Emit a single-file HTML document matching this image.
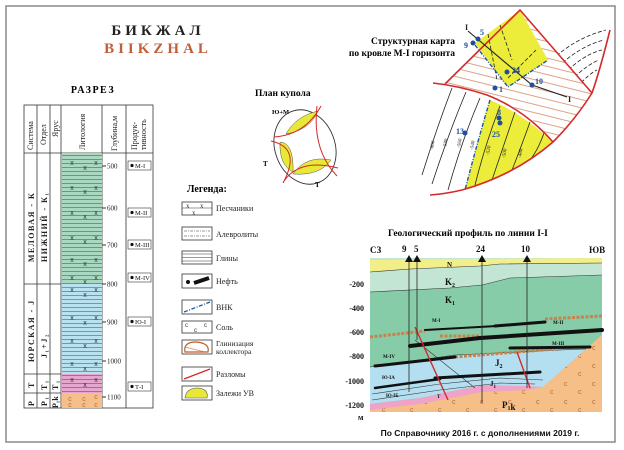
<!DOCTYPE html>
<html><head><meta charset="utf-8"><style>
html,body{margin:0;padding:0;background:#fff}
svg{display:block}
.s{font-family:"Liberation Serif","Noto Serif CJK SC",serif}
.a{font-family:"Liberation Sans","Noto Sans CJK SC",sans-serif}
</style></head><body>
<svg width="624" height="450" viewBox="0 0 624 450" xmlns="http://www.w3.org/2000/svg">
<defs>
<pattern id="hl" width="40" height="4" patternUnits="userSpaceOnUse"><line x1="0" y1="3.5" x2="40" y2="3.5" stroke="#3a4a44" stroke-width="0.6"/></pattern>
<pattern id="hatch" width="8" height="8" patternUnits="userSpaceOnUse" patternTransform="rotate(14)"><line x1="0" y1="4" x2="8" y2="4" stroke="#d07a50" stroke-width="0.7"/></pattern>
<pattern id="salt" width="28" height="18" patternUnits="userSpaceOnUse"><text x="4" y="8" font-size="7" fill="#b06a40" class="a">c</text><text x="18" y="16" font-size="7" fill="#b06a40" class="a">c</text></pattern>
</defs>
<rect x="6" y="6" width="609" height="436" fill="#fff" stroke="#8a8a8a" stroke-width="1.5"/>

<text x="158" y="35" text-anchor="middle" class="s" font-size="15" font-weight="bold" letter-spacing="4" fill="#222">БИКЖАЛ</text>
<text x="158" y="53" text-anchor="middle" class="s" font-size="15" font-weight="bold" letter-spacing="4" fill="#c0603a">BIIKZHAL</text>
<text x="93" y="93" text-anchor="middle" class="s" font-size="10" font-weight="bold" letter-spacing="1.5">РАЗРЕЗ</text>

<g stroke="#333" stroke-width="0.8" fill="none">
<rect x="24" y="105" width="129" height="303"/>
<line x1="24" y1="153" x2="153" y2="153"/>
<line x1="37" y1="105" x2="37" y2="408"/>
<line x1="50" y1="105" x2="50" y2="408"/>
<line x1="61" y1="105" x2="61" y2="408"/>
<line x1="102" y1="105" x2="102" y2="408"/>
<line x1="126" y1="105" x2="126" y2="408"/>
<line x1="24" y1="284" x2="61" y2="284"/>
<line x1="24" y1="374" x2="61" y2="374"/>
<line x1="24" y1="393" x2="61" y2="393"/>
</g>
<rect x="62" y="153" width="40" height="131" fill="#a8d9c0"/>
<rect x="62" y="284" width="40" height="90" fill="#b8e2f0"/>
<rect x="62" y="374" width="40" height="19" fill="#e6a6cf"/>
<rect x="62" y="393" width="40" height="15" fill="#f6bf8a"/>
<rect x="62" y="153" width="40" height="240" fill="url(#hl)"/>
<g class="a" font-size="7" fill="#333" text-anchor="middle">
<text x="72" y="165">x</text><text x="85" y="170">x</text><text x="96" y="165">x</text>
<text x="72" y="190">x</text><text x="85" y="194">x</text><text x="96" y="190">x</text>
<text x="72" y="215">x</text><text x="85" y="219">x</text><text x="96" y="215">x</text>
<text x="72" y="240">x</text><text x="85" y="244">x</text><text x="96" y="240">x</text>
<text x="72" y="262">x</text><text x="85" y="266">x</text><text x="96" y="262">x</text>
<text x="72" y="280">x</text><text x="85" y="284">x</text><text x="96" y="280">x</text>
<text x="72" y="292">x</text><text x="85" y="297">x</text><text x="96" y="292">x</text>
<text x="72" y="320">x</text><text x="85" y="325">x</text><text x="96" y="320">x</text>
<text x="72" y="343">x</text><text x="85" y="348">x</text><text x="96" y="343">x</text>
<text x="72" y="366">x</text><text x="85" y="371">x</text><text x="96" y="366">x</text>
<text x="72" y="382">x</text><text x="85" y="387">x</text><text x="96" y="382">x</text>
<text x="70" y="401" fill="#b06a40">c</text><text x="84" y="401" fill="#b06a40">c</text><text x="96" y="399" fill="#b06a40">c</text>
<text x="70" y="407" fill="#b06a40">c</text><text x="84" y="407" fill="#b06a40">c</text><text x="96" y="407" fill="#b06a40">c</text>
</g>
<g class="s" font-size="8" fill="#222">
<text transform="translate(33,150) rotate(-90)">Система</text>
<text transform="translate(46,145) rotate(-90)">Отдел</text>
<text transform="translate(58,137) rotate(-90)">Ярус</text>
<text transform="translate(85,150) rotate(-90)">Литология</text>
<text transform="translate(117,151) rotate(-90)">Глубина,м</text>
<text transform="translate(137,150) rotate(-90)">Продук-</text>
<text transform="translate(146,150) rotate(-90)">тивность</text>
</g>
<g class="s" font-size="8" font-weight="bold" fill="#222" letter-spacing="1.5">
<text transform="translate(34,262) rotate(-90)">МЕЛОВАЯ - К</text>
<text transform="translate(47,262) rotate(-90)">НИЖНИЙ - К₁</text>
<text transform="translate(34,362) rotate(-90)">ЮРСКАЯ - J</text>
<text transform="translate(47,358) rotate(-90)">J₁+J₂</text>
<text transform="translate(34,388) rotate(-90)">T</text>
<text transform="translate(47,390) rotate(-90)">T₁</text>
<text transform="translate(58,390) rotate(-90)">T₁</text>
<text transform="translate(34,406) rotate(-90)">P</text>
<text transform="translate(47,406) rotate(-90)">P₁</text>
<text transform="translate(58,408) rotate(-90)" letter-spacing="0">P₁k</text>
</g>
<g class="s" font-size="7" fill="#222">
<line x1="102" y1="166" x2="106" y2="166" stroke="#333"/><text x="107" y="168.5">500</text>
<line x1="102" y1="208" x2="106" y2="208" stroke="#333"/><text x="107" y="210.5">600</text>
<line x1="102" y1="245" x2="106" y2="245" stroke="#333"/><text x="107" y="247.5">700</text>
<line x1="102" y1="284" x2="106" y2="284" stroke="#333"/><text x="107" y="286.5">800</text>
<line x1="102" y1="322" x2="106" y2="322" stroke="#333"/><text x="107" y="324.5">900</text>
<line x1="102" y1="361" x2="106" y2="361" stroke="#333"/><text x="107" y="363.5">1000</text>
<line x1="102" y1="397" x2="106" y2="397" stroke="#333"/><text x="107" y="399.5">1100</text>
</g>
<g class="s" font-size="6.5" fill="#111" stroke-width="0.6">
<rect x="128" y="161" width="23" height="9" fill="none" stroke="#333"/><circle cx="132" cy="165.5" r="1.6"/><text x="135" y="168">М-I</text>
<rect x="128" y="208" width="23" height="9" fill="none" stroke="#333"/><circle cx="132" cy="212.5" r="1.6"/><text x="135" y="215">М-II</text>
<rect x="128" y="240" width="23" height="9" fill="none" stroke="#333"/><circle cx="132" cy="244.5" r="1.6"/><text x="135" y="247">М-III</text>
<rect x="128" y="273" width="23" height="9" fill="none" stroke="#333"/><circle cx="132" cy="277.5" r="1.6"/><text x="135" y="280">М-IV</text>
<rect x="128" y="317" width="23" height="9" fill="none" stroke="#333"/><circle cx="132" cy="321.5" r="1.6"/><text x="135" y="324">Ю-I</text>
<rect x="128" y="382" width="23" height="9" fill="none" stroke="#333"/><circle cx="132" cy="386.5" r="1.6"/><text x="135" y="389">Т-I</text>
</g>

<!-- Plan kupola -->
<text x="255" y="96" class="s" font-size="9.5" font-weight="bold">План купола</text>
<text x="272" y="114" class="s" font-size="6.5" font-weight="bold">Ю+М</text>
<ellipse cx="305" cy="147" rx="30" ry="38" transform="rotate(-20 305 147)" fill="none" stroke="#333" stroke-width="0.9"/>
<path d="M286,134 Q296,116 318,111 Q310,130 286,134Z" fill="#e8e838" stroke="#555" stroke-width="0.5"/>
<path d="M280,142 Q294,143 293,172 Q279,165 280,142Z" fill="#e8e838" stroke="#555" stroke-width="0.5"/>
<path d="M293,174 Q306,155 331,160 Q320,176 293,174Z" fill="#e8e838" stroke="#555" stroke-width="0.5"/>
<g stroke="#d42a2a" stroke-width="1" fill="none">
<path d="M274,137 Q305,135 321,106"/>
<path d="M317,106 Q312,150 337,176"/>
<path d="M271,141 Q302,148 283,183"/>
<path d="M284,181 Q300,158 338,168"/>
</g>
<text x="263" y="166" class="s" font-size="7" font-weight="bold">Т</text>
<text x="315" y="187" class="s" font-size="7" font-weight="bold">Т</text>

<!-- Legend -->
<text x="187" y="192" class="s" font-size="10" font-weight="bold">Легенда:</text>
<g stroke="#333" stroke-width="0.8" fill="none">
<rect x="182" y="202" width="30" height="13"/>
<rect x="182" y="227" width="30" height="13"/>
<rect x="182" y="251" width="30" height="13"/>
<rect x="182" y="274" width="30" height="14"/>
<rect x="182" y="300" width="30" height="14"/>
<rect x="182" y="321" width="30" height="12"/>
<rect x="182" y="340" width="30" height="14"/>
<rect x="182" y="367" width="30" height="14"/>
<rect x="182" y="386" width="30" height="14"/>
</g>
<g stroke="#333" stroke-width="0.6" fill="none">
<line x1="182" y1="208" x2="212" y2="208"/><text x="186" y="208" font-size="7" fill="#333" stroke="none">x</text><text x="200" y="208" font-size="7" fill="#333" stroke="none">x</text><text x="192" y="215" font-size="7" fill="#333" stroke="none">x</text>
<line x1="184" y1="231" x2="210" y2="231" stroke-dasharray="3,1,1,1"/><line x1="184" y1="236" x2="210" y2="236" stroke-dasharray="3,1,1,1"/>
<line x1="182" y1="254" x2="212" y2="254"/><line x1="182" y1="257.5" x2="212" y2="257.5"/><line x1="182" y1="261" x2="212" y2="261"/>
</g>
<circle cx="188" cy="282" r="2" fill="#111"/><line x1="194" y1="283" x2="209" y2="278" stroke="#111" stroke-width="4"/>
<line x1="184" y1="312" x2="210" y2="302" stroke="#1a56a8" stroke-width="1.3" stroke-dasharray="4,1.5,1,1.5"/>
<g class="a" font-size="6" fill="#333"><text x="185" y="327">c</text><text x="204" y="327">c</text><text x="194" y="332">c</text></g>
<path d="M185,352 Q183,342 196,342 Q210,343 208,352Z" fill="url(#hatch)" stroke="#c0602a" stroke-width="1.2"/>
<line x1="184" y1="379" x2="210" y2="369" stroke="#d42a2a" stroke-width="1.3"/>
<path d="M185,398 Q186,388 198,388 Q209,389 207,398Z" fill="#e8e838" stroke="#555" stroke-width="0.6"/>
<g class="s" font-size="8" fill="#222">
<text x="216" y="211">Песчаники</text>
<text x="216" y="237">Алевролиты</text>
<text x="216" y="261">Глины</text>
<text x="216" y="284">Нефть</text>
<text x="216" y="310">ВНК</text>
<text x="216" y="330">Соль</text>
<text x="216" y="346" font-size="7.5">Глинизация</text>
<text x="216" y="354" font-size="7.5">коллектора</text>
<text x="216" y="377">Разломы</text>
<text x="216" y="396">Залежи УВ</text>
</g>

<!-- Structural map -->
<text x="455" y="44" text-anchor="end" class="s" font-size="9.5" font-weight="bold">Структурная карта</text>
<text x="455" y="56" text-anchor="end" class="s" font-size="9.5" font-weight="bold">по кровле М-I горизонта</text>
<g stroke="#222" stroke-width="0.8" fill="none" stroke-dasharray="4,2">
<path d="M552,60 Q575,38 606,30"/>
<path d="M558,67 Q580,46 604,40"/>
<path d="M564,74 Q584,54 602,50"/>
<path d="M570,81 Q588,64 599,60"/>
<path d="M577,87 Q590,73 597,70"/>
</g>
<path d="M445,84 L520,10 L592,93 Q575,120 553,142 Q530,110 487,95 Q460,86 445,84Z" fill="#fff"/>
<path d="M445,84 L520,10 L592,93 Q575,120 553,142 Q530,110 487,95 Q460,86 445,84Z" fill="url(#hatch)"/>
<path d="M475,43 L520,10 L548,60 L508,87Z" fill="#ecec3a"/>
<path d="M490,100 Q520,112 553,142 Q515,175 465,190 Q478,140 490,100Z" fill="#ecec3a"/>
<g stroke="#222" stroke-width="0.8" fill="none">
<path d="M480,98 Q462,140 448,190"/>
<path d="M466,92 Q448,135 432,184"/>
<path d="M452,88 Q436,130 422,175"/>
<path d="M500,106 Q485,145 475,185"/>
<path d="M515,112 Q502,150 492,180"/>
<path d="M530,122 Q520,150 512,170"/>
<path d="M544,133 Q538,150 530,160"/>
<path d="M488,34 L497,80" stroke-dasharray="4,2"/>
<path d="M500,25 L512,60" stroke-dasharray="4,2"/>
<path d="M508,78 L536,50" stroke-dasharray="4,2"/>
</g>
<g class="s" font-size="5" fill="#222">
<text transform="translate(433,150) rotate(-80)">-600</text>
<text transform="translate(446,148) rotate(-80)">-580</text>
<text transform="translate(460,148) rotate(-80)">-560</text>
<text transform="translate(473,150) rotate(-80)">-540</text>
<text transform="translate(489,155) rotate(-80)">-520</text>
<text transform="translate(505,158) rotate(-80)">-500</text>
<text transform="translate(521,158) rotate(-80)">-480</text>
</g>
<path d="M475,45 L508,87 L548,60" stroke="#1a56a8" stroke-width="1.4" fill="none" stroke-dasharray="4,1.5,1,1.5"/>
<path d="M490,100 Q478,140 465,190" stroke="#1a56a8" stroke-width="1.4" fill="none" stroke-dasharray="4,1.5,1,1.5"/>
<g stroke="#d42a2a" stroke-width="1.6" fill="none">
<path d="M445,84 L520,10 L592,93"/>
<path d="M433,83 Q460,86 487,95 Q525,110 553,142"/>
<path d="M610,30 Q600,70 592,93 Q575,120 553,142 Q515,175 462,190 Q445,194 430,195"/>
</g>
<path d="M468,31 L532,85 L567,97" stroke="#222" stroke-width="1.1" fill="none"/>
<g class="s" font-size="8" font-weight="bold" fill="#1f4e9c">
<text x="465" y="30" fill="#222">I</text>
<text x="568" y="102" fill="#222">I</text>
<text x="480" y="35">5</text>
<text x="464" y="48">9</text>
<text x="512" y="73">24</text>
<text x="535" y="84">10</text>
<text x="499" y="92">1</text>
<text x="497" y="115">8</text>
<text x="456" y="134">13</text>
<text x="492" y="137">25</text>
</g>
<g fill="#1f4e9c">
<circle cx="473" cy="43" r="2.5"/><circle cx="478" cy="39" r="2.5"/><circle cx="507" cy="72" r="2.5"/><circle cx="532" cy="85" r="2.5"/><circle cx="495" cy="88" r="2.5"/><circle cx="499" cy="118" r="2.5"/><circle cx="500" cy="123" r="2.5"/><circle cx="465" cy="133" r="2.5"/>
</g>

<!-- Cross-section -->
<text x="388" y="236" class="s" font-size="9.5" font-weight="bold">Геологический профиль по линии I-I</text>
<rect x="370" y="258" width="232" height="154" fill="#86cca8"/>
<path d="M370,258 L602,258 L602,275 L510,278 L482,285 L450,288 L370,292Z" fill="#c2e6d3"/>
<path d="M370,260 L602,258 L602,263 L540,264 L500,264 L480,266 L410,269 L370,272Z" fill="#f2ee8a"/>
<path d="M370,367 L455,355 L560,350 L586,349 L543,387 L527,388 L482,385 L420,398 L370,404Z" fill="#b4dff0"/>
<path d="M370,404 L420,398 L482,385 L527,386 L543,387 L527,390 L482,392 L420,404 L370,410Z" fill="#f0a3c8"/>
<path d="M370,410 L420,404 L482,392 L527,390 L543,387 L602,335 L602,412 L370,412Z" fill="#f7bf88"/>
<path d="M370,410 L420,404 L482,392 L527,390 L543,387 L602,335 L602,412 L370,412Z" fill="url(#salt)"/>
<g stroke="#333" stroke-width="0.6" fill="none">
<path d="M370,272 L410,269 L480,266 L500,264 L602,263"/>
<path d="M370,292 L450,288 L482,285 L510,278 L602,275"/>
<path d="M370,367 L455,355 L560,350 L586,349"/>
<path d="M372,394 L440,384 L500,378 L543,380"/>
<path d="M372,400 L440,390 L500,383 L535,384"/>
<path d="M415,340 Q440,360 475,388"/>
</g>
<g stroke="#c8824a" stroke-width="3" fill="none" stroke-dasharray="3,1.5">
<path d="M370,337 L425,331"/>
<path d="M545,319 L602,316"/>
<path d="M440,336 L480,336"/>
<path d="M455,357 L555,349"/>
</g>
<g stroke="#111" fill="none" stroke-linecap="round">
<path d="M425,330 L497,326" stroke-width="2"/>
<path d="M495,326 L545,322" stroke-width="3"/>
<path d="M480,338 L602,330" stroke-width="4"/>
<path d="M410,346 L480,338" stroke-width="4"/>
<path d="M510,348 L590,347" stroke-width="3"/>
<path d="M375,366 L455,357" stroke-width="3"/>
<path d="M435,378 L540,372" stroke-width="3"/>
<path d="M375,388 L440,379" stroke-width="2.5"/>
</g>
<g stroke="#d42a2a" stroke-width="1.4">
<line x1="415" y1="327" x2="448" y2="400"/>
<line x1="517" y1="352" x2="530" y2="388"/>
</g>
<g stroke="#222" stroke-width="0.8">
<line x1="409" y1="258" x2="409" y2="392"/>
<line x1="417" y1="258" x2="417" y2="340"/>
<line x1="482" y1="258" x2="482" y2="403"/>
<line x1="527" y1="258" x2="527" y2="388"/>
</g>
<g fill="#111"><path d="M405,262 L409,255 L413,262Z"/><path d="M413,262 L417,255 L421,262Z"/><path d="M478,262 L482,255 L486,262Z"/><path d="M523,262 L527,255 L531,262Z"/></g>
<g class="s" font-size="9" font-weight="bold" fill="#111">
<text x="402" y="252">9</text><text x="414" y="252">5</text><text x="476" y="252">24</text><text x="521" y="252">10</text>
<text x="370" y="253">СЗ</text><text x="589" y="253">ЮВ</text>
</g>
<g class="s" font-size="8" font-weight="bold" fill="#111" text-anchor="end">
<text x="364" y="287">-200</text><text x="364" y="311">-400</text><text x="364" y="335">-600</text><text x="364" y="359">-800</text><text x="364" y="384">-1000</text><text x="364" y="408">-1200</text>
</g>
<g class="s" font-size="9" font-weight="bold" fill="#111">
<text x="358" y="420" font-size="8">м</text>
<text x="447" y="267" font-size="7">N</text>
<text x="445" y="285">K<tspan font-size="6" dy="2">2</tspan></text>
<text x="445" y="303">K<tspan font-size="6" dy="2">1</tspan></text>
<text x="495" y="366">J<tspan font-size="6" dy="2">2</tspan></text>
<text x="490" y="386" font-size="7">J<tspan font-size="5" dy="2">1</tspan></text>
<text x="502" y="408">P<tspan font-size="6" dy="2">1</tspan>k</text>
<text x="437" y="398" font-size="5">T</text>
</g>
<g class="s" font-size="5" font-weight="bold" fill="#111">
<text x="432" y="322">М-I</text><text x="553" y="324">М-II</text><text x="552" y="345">М-III</text><text x="383" y="358">М-IV</text><text x="382" y="379">Ю-IА</text><text x="386" y="397">Ю-IБ</text>
</g>
<text x="480" y="436" text-anchor="middle" class="a" font-size="8.5" font-weight="bold" fill="#111">По Справочнику 2016 г. с дополнениями 2019 г.</text>
</svg>
</body></html>
